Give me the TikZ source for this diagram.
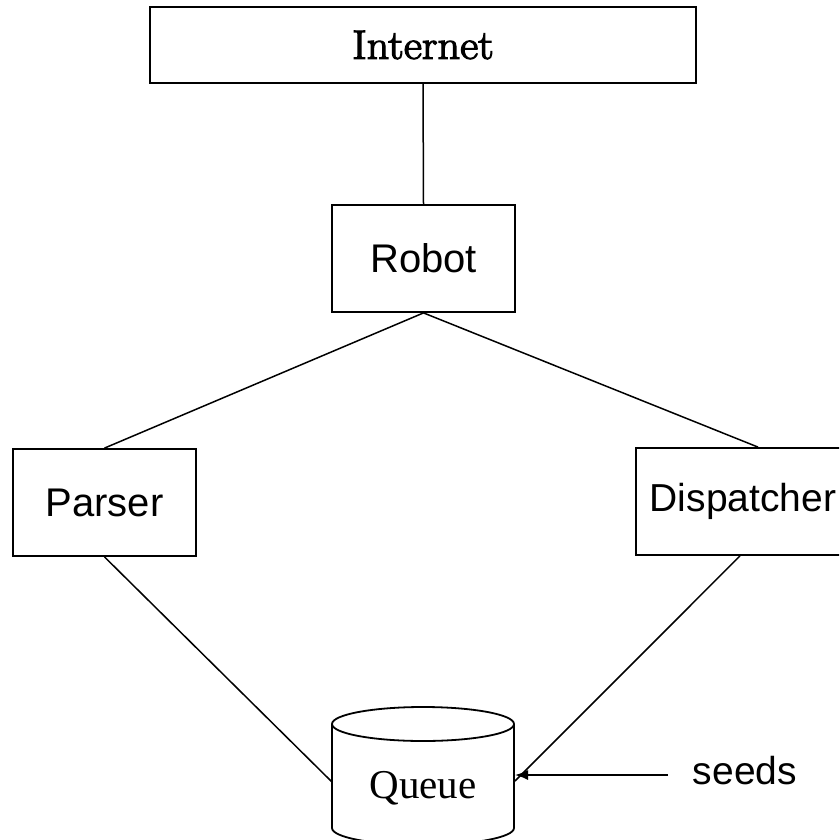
\documentclass[tikz,border=0pt]{standalone}
\usepackage{fontspec}
\setmainfont{Liberation Sans}
\newfontfamily\serifqueue{Liberation Serif}
\newfontfamily\lmserif[FakeBold=3, FakeStretch=1.08]{Latin Modern Roman}
\usetikzlibrary{arrows.meta}
\begin{document}
\begin{tikzpicture}[x=1pt,y=-1pt,
  box/.style={draw, line width=1.8pt, inner sep=0pt, fill=white},
  plain/.style={inner sep=0pt},
  conn/.style={draw, line width=1.5pt}]
\useasboundingbox (0,0) rectangle (839,840);
\fill[white] (0,0) rectangle (839,840);
\clip (0,0) rectangle (839,840);
% boxes
\node[box, minimum width=546pt, minimum height=76pt] (inet) at (423,45)
  {\lmserif\fontsize{41}{50}\selectfont Internet};
\node[box, minimum width=183pt, minimum height=107pt] (robot) at (423.5,258.5)
  {\fontsize{40}{48}\selectfont Robot};
\node[box, minimum width=183pt, minimum height=107pt] (parser) at (104.5,502.5)
  {\fontsize{40}{48}\selectfont Parser};
\node[box, minimum width=244pt, minimum height=107pt] (disp) at (758,501.5) {};
\node[plain] (disptext) at (743,501.5) {\fontsize{39}{48}\selectfont Dispatcher};
% queue cylinder
\draw[line width=1.8pt] (332,724) -- (332,828)
  arc[start angle=180, end angle=0, x radius=91, y radius=17] -- (514,724);
\draw[line width=1.8pt] (423,724) ellipse[x radius=91, y radius=17];
\node[plain] (queue) at (423,788) {\serifqueue\fontsize{41}{48}\selectfont Queue};
\coordinate (qL) at (332,782);
\coordinate (qR) at (515,781);
\coordinate (qA) at (515,775);
% seeds
\node[plain] (seeds) at (745,771) {\fontsize{39}{48}\selectfont seeds};
\coordinate (sstart) at (668,775);
% connectors
\draw[conn] (inet.south) -- (robot.north);
\draw[conn] (robot.south) -- (parser.north);
\draw[conn] (robot.south) -- (disp.north);
\draw[conn] (parser.south) -- (qL);
\draw[conn] ([xshift=-18pt]disp.south) -- (qR);
\draw[conn, -{Latex[length=13pt,width=10pt]}] (sstart) -- (qA);
\end{tikzpicture}
\end{document}
